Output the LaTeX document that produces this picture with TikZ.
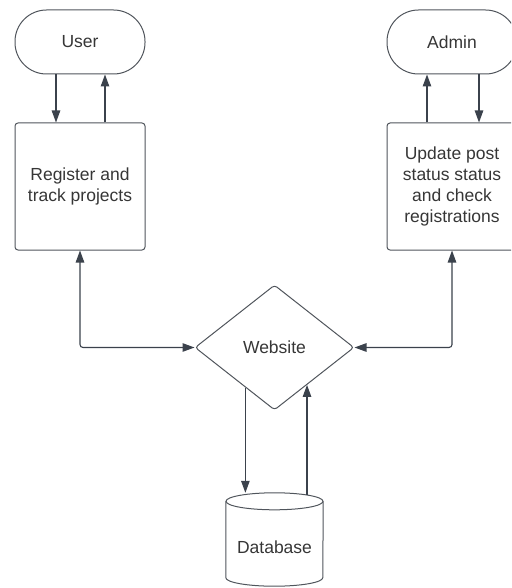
\documentclass[tikz,border=0pt]{standalone}
\usepackage{fontspec}
\setmainfont{Liberation Sans}
\usetikzlibrary{arrows.meta,shapes.geometric,calc}
\definecolor{linec}{HTML}{3B424C}
\definecolor{boxc}{HTML}{50555C}
\definecolor{txtc}{HTML}{363636}
\tikzset{
  every node/.style={font=\fontsize{17.5}{21}\selectfont, text=txtc, align=center},
  term/.style={draw=boxc, line width=1pt, rounded corners=31.5pt, minimum width=130pt, minimum height=64pt, inner sep=0pt},
  procbox/.style={draw=boxc, line width=1pt, rounded corners=3pt, minimum width=130pt, minimum height=127pt, inner sep=0pt},
  dec/.style={draw=boxc, line width=1pt, diamond, rounded corners=3pt, minimum width=159pt, minimum height=125pt, inner sep=0pt, aspect=1.27},
  arr/.style={draw=linec, line width=1.1pt, -{Triangle[length=12pt,width=8.5pt]}},
  biarr/.style={draw=linec, line width=1.1pt, {Triangle[length=12pt,width=8.5pt]}-{Triangle[length=12pt,width=8.5pt]}, rounded corners=3pt},
}
\begin{document}
\begin{tikzpicture}[x=1pt,y=-1pt]
\useasboundingbox (0,0) rectangle (511,588);
\clip (0,0) rectangle (511,588);
\node[term] (user) at (80,42) {User};
\node[term] (admin) at (452,42) {Admin};
\node[procbox] (reg) at (80,186.5) {Register and\\track projects};
\node[procbox] (upd) at (452,186.5) {Update post\\status status\\and check\\registrations};
\node[dec] (web) at (274.5,347.5) {Website};
% database cylinder
\node[minimum width=97pt, minimum height=93pt, inner sep=0pt] (db) at (274.5,539.5) {};
\path (db.north west) ++(0,8.5) coordinate (dbtl)
  (db.north east) ++(0,8.5) coordinate (dbtr)
  (db.south west) ++(0,-8.5) coordinate (dbbl)
  (db.south east) ++(0,-8.5) coordinate (dbbr);
\draw[boxc, line width=1pt] ($(dbtl)!0.5!(dbtr)$) ellipse [x radius=48.5pt, y radius=8.5pt];
\draw[boxc, line width=1pt] (dbtl) -- (dbbl) arc[start angle=180, end angle=360, x radius=48.5pt, y radius=8.5pt] -- (dbtr);
\node (dbt) at (274.5,547) {Database};
% connectors
\draw[arr] ([xshift=-24pt]user.south) -- ([xshift=-24pt]reg.north);
\draw[arr] ([xshift=25pt]reg.north) -- ([xshift=25pt]user.south);
\draw[arr] ([xshift=-25pt]upd.north) -- ([xshift=-25pt]admin.south);
\draw[arr] ([xshift=27pt]admin.south) -- ([xshift=27pt]upd.north);
\draw[biarr] (reg.south) |- (web.west);
\draw[biarr] (upd.south) |- (web.east);
\draw[arr] (web.234.5) -- (web.234.5 |- db.north);
\draw[arr] ([yshift=-2pt]web.311.3 |- db.north) -- (web.311.3);
\end{tikzpicture}
\end{document}
